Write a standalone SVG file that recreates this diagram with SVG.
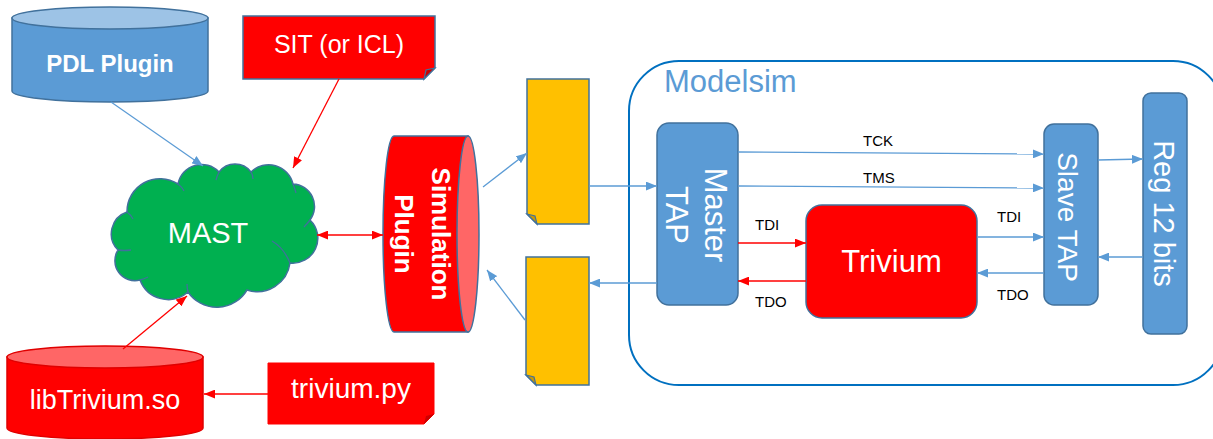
<svg xmlns="http://www.w3.org/2000/svg" width="1213" height="439" viewBox="0 0 1213 439">
<style>
text{font-family:"Liberation Sans",Arial,sans-serif}
.w{fill:#ffffff}
.lbl{fill:#000000;font-size:15px}
.bl{stroke:#5B9BD5;stroke-width:1.3;fill:none}
.rd{stroke:#FF0000;stroke-width:1.3;fill:none}
.bnode{fill:#5B9BD5;stroke:#41719C;stroke-width:1.5}
</style>
<defs>
<marker id="ab" viewBox="0 0 10 8" refX="10" refY="4" markerWidth="11" markerHeight="9" markerUnits="userSpaceOnUse" orient="auto-start-reverse"><path d="M0,0 L10,4 L0,8 Z" fill="#5B9BD5"/></marker>
<marker id="ar" viewBox="0 0 10 8" refX="10" refY="4" markerWidth="11" markerHeight="9" markerUnits="userSpaceOnUse" orient="auto-start-reverse"><path d="M0,0 L10,4 L0,8 Z" fill="#FF0000"/></marker>
</defs>

<g id="modelsim">
<rect x="629" y="61" width="594" height="324" rx="50" ry="50" fill="none" stroke="#0070C0" stroke-width="2"/>
<text x="664" y="92" font-size="31" fill="#5B9BD5">Modelsim</text>
</g>

<g id="pdl-plugin">
<path d="M12,18 V91 A98,11 0 0 0 208,91 V18 Z" fill="#5B9BD5" stroke="#41719C" stroke-width="1.5"/>
<ellipse cx="110" cy="18" rx="98" ry="11" fill="#9DC3E6" stroke="#41719C" stroke-width="1.5"/>
<text x="110" y="72" font-size="24" font-weight="bold" text-anchor="middle" class="w">PDL Plugin</text>
</g>

<g id="sit">
<path d="M243,16 H435 V68 L424,79 H243 Z" fill="#FF0000" stroke="#41719C" stroke-width="1.5"/>
<path d="M424,79 L426,70 L435,68 Z" fill="#CC0000" stroke="#41719C" stroke-width="1.2"/>
<text x="339" y="53" font-size="25" text-anchor="middle" class="w">SIT (or ICL)</text>
</g>

<g id="mast">
<path d="M127,212 A33,33 0 0 1 178,184 A24,24 0 0 1 219,172 A20,20 0 0 1 251,172 A25,25 0 0 1 293,184 A22.5,22.5 0 0 1 310,220 A25,25 0 0 1 290,263 A33,33 0 0 1 247,290 A35,35 0 0 1 188,292 A30,30 0 0 1 140,280 A20,20 0 0 1 118,250 A23,23 0 0 1 127,212 Z" fill="#00B050" stroke="#41719C" stroke-width="1.5"/>
<path d="M178,184 Q182,187 184,191 M219,172 Q217,176 216,180 M251,172 Q253,175 253,179 M293,184 Q295,189 296,193 M310,220 Q307,224 304,227 M290,263 Q284,248 272,241 M188,292 Q187,288 187,284 M140,280 Q144,279 148,277 M118,250 Q124,251 131,250 M127,212 Q131,215 133,219" fill="none" stroke="#41719C" stroke-width="1.3"/>
<text x="208" y="243" font-size="29" text-anchor="middle" class="w">MAST</text>
</g>

<g id="libtrivium">
<path d="M7,357 V428 A98,11 0 0 0 203,428 V357 Z" fill="#FF0000" stroke="#E00000" stroke-width="1.5"/>
<ellipse cx="105" cy="357" rx="98" ry="11" fill="#FF6666" stroke="#E00000" stroke-width="1.5"/>
<text x="105" y="409" font-size="27" text-anchor="middle" class="w">libTrivium.so</text>
</g>

<g id="trivium-py">
<path d="M268,363 H434 V414 L424,424 H268 Z" fill="#FF0000" stroke="#FF0000" stroke-width="1"/>
<path d="M424,424 L426,416 L434,414 Z" fill="#CC0000"/>
<text x="351" y="398" font-size="28" text-anchor="middle" class="w">trivium.py</text>
</g>

<g id="simulation-plugin">
<path d="M394,136 H468 V332 H394 A11,98 0 0 1 394,136 Z" fill="#FF0000" stroke="#41719C" stroke-width="1.5"/>
<ellipse cx="468" cy="234" rx="11" ry="98" fill="#FF6666" stroke="#41719C" stroke-width="1.5"/>
<text transform="translate(432,234) rotate(90)" font-size="26" font-weight="bold" text-anchor="middle" class="w">Simulation</text>
<text transform="translate(395,234) rotate(90)" font-size="26" font-weight="bold" text-anchor="middle" class="w">Plugin</text>
</g>

<g id="doc-in">
<path d="M527,79 H589 V224 H537 L527,214 Z" fill="#FFC000" stroke="#41719C" stroke-width="1.5"/>
<path d="M527,214 L535,216 L537,224 Z" fill="#CC9A00" stroke="#41719C" stroke-width="1.2"/>
</g>

<g id="doc-out">
<path d="M526,257 H589 V385 H536 L526,375 Z" fill="#FFC000" stroke="#41719C" stroke-width="1.5"/>
<path d="M526,375 L534,377 L536,385 Z" fill="#CC9A00" stroke="#41719C" stroke-width="1.2"/>
</g>

<g id="master-tap">
<rect x="657" y="123" width="81" height="182" rx="12" ry="12" class="bnode"/>
<text transform="translate(705,215) rotate(90)" font-size="31" text-anchor="middle" class="w">Master</text>
<text transform="translate(666,215) rotate(90)" font-size="31" text-anchor="middle" class="w">TAP</text>
</g>

<g id="trivium">
<rect x="806" y="205" width="171" height="113" rx="16" ry="16" fill="#FF0000" stroke="#41719C" stroke-width="1.5"/>
<text x="891.5" y="272" font-size="31" text-anchor="middle" class="w">Trivium</text>
</g>

<g id="slave-tap">
<rect x="1044" y="124" width="54" height="181" rx="10" ry="10" class="bnode"/>
<text transform="translate(1058,217) rotate(90)" font-size="28" text-anchor="middle" class="w">Slave TAP</text>
</g>

<g id="reg-12-bits">
<rect x="1143" y="93" width="44" height="241" rx="8" ry="8" class="bnode"/>
<text transform="translate(1154,213.5) rotate(90)" font-size="29" text-anchor="middle" class="w">Reg 12 bits</text>
</g>

<g id="connectors">
<line x1="111" y1="102" x2="203" y2="166" class="bl" marker-end="url(#ab)"/>
<line x1="339" y1="79" x2="293" y2="168" class="rd" marker-end="url(#ar)"/>
<line x1="123" y1="349" x2="187" y2="296" class="rd" marker-end="url(#ar)"/>
<line x1="268" y1="394" x2="204" y2="394" class="rd" marker-end="url(#ar)"/>
<line x1="317" y1="235" x2="383" y2="235" class="rd" marker-start="url(#ar)" marker-end="url(#ar)"/>
<line x1="483" y1="187" x2="527" y2="153" class="bl" marker-end="url(#ab)"/>
<line x1="525" y1="320" x2="487" y2="270" class="bl" marker-end="url(#ab)"/>
<line x1="589" y1="186" x2="657" y2="186" class="bl" marker-end="url(#ab)"/>
<line x1="657" y1="283" x2="589" y2="283" class="bl" marker-end="url(#ab)"/>
<line x1="738" y1="152" x2="1044" y2="154" class="bl" marker-end="url(#ab)"/>
<line x1="738" y1="186" x2="1044" y2="188" class="bl" marker-end="url(#ab)"/>
<line x1="738" y1="243" x2="806" y2="243" class="rd" marker-end="url(#ar)"/>
<line x1="806" y1="281" x2="738" y2="281" class="rd" marker-end="url(#ar)"/>
<line x1="977" y1="237" x2="1044" y2="237" class="bl" marker-end="url(#ab)"/>
<line x1="1044" y1="273" x2="977" y2="273" class="bl" marker-end="url(#ab)"/>
<line x1="1098" y1="160" x2="1143" y2="159" class="bl" marker-end="url(#ab)"/>
<line x1="1143" y1="257" x2="1098" y2="257" class="bl" marker-end="url(#ab)"/>
<text x="863" y="146" class="lbl">TCK</text>
<text x="863" y="183" class="lbl">TMS</text>
<text x="755" y="230" class="lbl">TDI</text>
<text x="755" y="307" class="lbl">TDO</text>
<text x="997" y="222" class="lbl">TDI</text>
<text x="997" y="300" class="lbl">TDO</text>
</g>
</svg>
